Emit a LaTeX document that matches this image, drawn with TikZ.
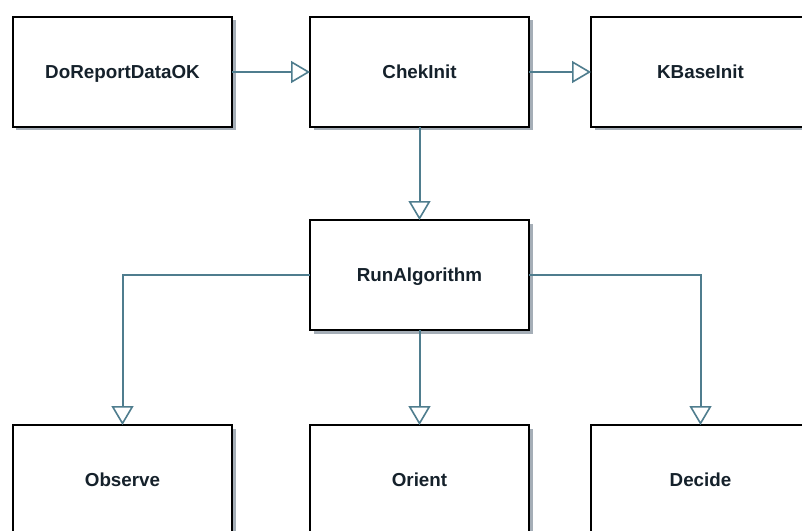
\documentclass[tikz,border=0pt]{standalone}
\usepackage{fontspec}
\setmainfont{Liberation Sans}
\usetikzlibrary{arrows.meta, positioning, shadows}
\definecolor{umlline}{HTML}{4f7d8e}
\definecolor{umltext}{HTML}{15212b}
\definecolor{umlshadow}{HTML}{6a7888}

\begin{document}
\begin{tikzpicture}[
    x=1bp, y=1bp,
    font=\fontsize{18.8bp}{20bp}\selectfont\bfseries,
    state/.style={rectangle, draw=black, fill=white, line width=2.8bp, text=umltext, minimum width=219bp, minimum height=110bp, inner sep=0pt, outer sep=0pt, text height=13.5bp, text depth=0pt, drop shadow={shadow xshift=3.5bp, shadow yshift=-3.5bp, fill=umlshadow, opacity=0.6}},
    arrow/.style={-{Triangle[open, length=19bp, width=22bp, line width=1.6bp]}, line width=2bp, umlline}
]
\clip (0,0) rectangle (802,-531);
\fill[white] (0,0) rectangle (802,-531);

% Nodes
\node[state] (report) at (122.5,-72) {DoReportDataOK};
\node[state, right=78bp of report] (chek) {ChekInit};
\node[state, right=62bp of chek] (kbase) {KBaseInit};
\node[state, below=93bp of chek] (run) {RunAlgorithm};
\node[state, below=95bp of run] (orient) {Orient};
\node[state, left=78bp of orient] (observe) {Observe};
\node[state, right=62bp of orient] (decide) {Decide};

% Arrows
\draw[arrow] (report) -- (chek);
\draw[arrow] (chek) -- (kbase);
\draw[arrow] (chek) -- (run);
\draw[arrow] (run.west) -| (observe.north);
\draw[arrow] (run) -- (orient);
\draw[arrow] (run.east) -| (decide.north);

\end{tikzpicture}
\end{document}
